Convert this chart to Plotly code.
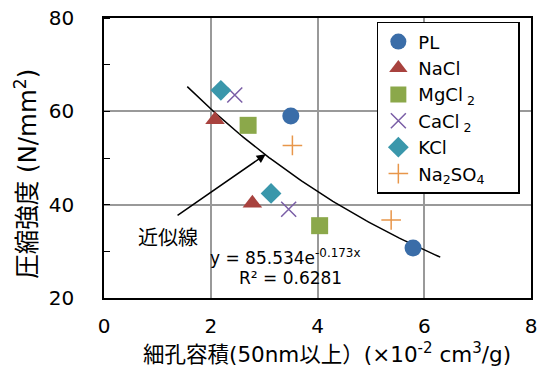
import numpy as np
import plotly.graph_objects as go

# ---- data ----
series_names = ["PL", "NaCl", "MgCl<sub> 2</sub>", "CaCl<sub> 2</sub>", "KCl",
                "Na<sub>2</sub>SO<sub>4</sub>\u00a0\u00a0\u00a0\u00a0\u00a0"]
pl_x = [3.50, 5.79]
pl_y = [59.0, 30.7]
nacl_x = [2.08, 2.78]
nacl_y = [58.2, 40.3]
mgcl2_x = [2.70, 4.04]
mgcl2_y = [57.0, 35.5]
cacl2_x = [2.45, 3.46]
cacl2_y = [63.5, 39.0]
kcl_x = [2.19, 3.13]
kcl_y = [64.5, 42.4]
na2so4_x = [3.53, 5.38]
na2so4_y = [52.7, 36.7]

# trendline (exponential fit shown on the chart)
fit_a = 85.534
fit_b = -0.173
fit_x_range = [1.56, 6.30]

x_ticks = [0, 2, 4, 6, 8]
y_ticks = [20, 40, 60, 80]

FONT = "DejaVu Sans, Noto Sans CJK JP, sans-serif"

colors = ["#3A6DA8", "#A8423E", "#8BA84A", "#7A5EA6", "#3A97AB", "#E8964A"]
symbols = ["circle", "triangle-up", "square", "x-thin", "diamond", "cross-thin"]
sizes = [17, 17, 17, 15, 16, 14]
xs = [pl_x, nacl_x, mgcl2_x, cacl2_x, kcl_x, na2so4_x]
ys = [pl_y, nacl_y, mgcl2_y, cacl2_y, kcl_y, na2so4_y]

fig = go.Figure()

# trendline
tx = np.linspace(fit_x_range[0], fit_x_range[1], 100)
ty = fit_a * np.exp(fit_b * tx)
fig.add_trace(go.Scatter(x=tx, y=ty, mode="lines", line=dict(color="black", width=1.5),
                         showlegend=False, hoverinfo="skip"))

for name, x, y, c, s, sz in zip(series_names, xs, ys, colors, symbols, sizes):
    if s.endswith("-thin"):
        marker = dict(symbol=s, size=sz, color=c, line=dict(color=c, width=1.5))
    else:
        marker = dict(symbol=s, size=sz, color=c, line=dict(width=0))
    fig.add_trace(go.Scatter(x=x, y=y, mode="markers", name=name, marker=marker))

fig.update_layout(
    width=540, height=372,
    margin=dict(l=104, r=9, t=18, b=74),
    paper_bgcolor="white", plot_bgcolor="white",
    font=dict(family=FONT, size=20, color="black"),
    showlegend=True,
    legend=dict(x=0.639, y=0.986, xanchor="left", yanchor="top",
                bordercolor="black", borderwidth=1.5, bgcolor="white",
                font=dict(size=18, family=FONT), tracegroupgap=0),
    xaxis=dict(range=[0, 8], tickvals=x_ticks, showgrid=True, gridcolor="#999999", gridwidth=1.5,
               showline=True, linecolor="black", linewidth=1.5, mirror=True, zeroline=False,
               ticks="", tickfont=dict(size=20), ticklabelstandoff=9, automargin=False),
    yaxis=dict(range=[20, 80], tickvals=y_ticks, showgrid=True, gridcolor="#999999", gridwidth=1.5,
               showline=True, linecolor="black", linewidth=1.5, mirror=True, zeroline=False,
               ticks="", tickfont=dict(size=20), ticklabelstandoff=24, automargin=False,
               minor=dict(ticks="inside", dtick=10, ticklen=6, tickcolor="black", tickwidth=1.2, showgrid=False)),
)

# axis titles
fig.add_annotation(xref="paper", yref="paper", x=0.522, y=-0.196,
                   text="細孔容積(50nm以上）(×10<sup>-2</sup> cm<sup>3</sup>/g)",
                   showarrow=False, font=dict(size=21.5), xanchor="center", yanchor="middle")
fig.add_annotation(xref="paper", yref="paper", x=-0.183, y=0.443,
                   text="圧縮強度 (N/mm<sup>2</sup>)", textangle=-90,
                   showarrow=False, font=dict(size=24.5), xanchor="center", yanchor="middle")

# arrow & labels
fig.add_annotation(x=3.03, y=50.8, ax=1.35, ay=37.5, xref="x", yref="y", axref="x", ayref="y",
                   showarrow=True, arrowhead=2, arrowsize=1.2, arrowwidth=1.5, arrowcolor="black", text="")
fig.add_annotation(x=1.2, y=32.9, xref="x", yref="y", text="近似線", showarrow=False,
                   font=dict(size=20))
fig.add_annotation(x=3.4, y=28.8, xref="x", yref="y",
                   text="y = 85.534e<sup>-0.173x</sup>", showarrow=False, font=dict(size=17))
fig.add_annotation(x=3.5, y=24.3, xref="x", yref="y",
                   text="R² = 0.6281", showarrow=False, font=dict(size=17))

fig.write_html("out.html")
